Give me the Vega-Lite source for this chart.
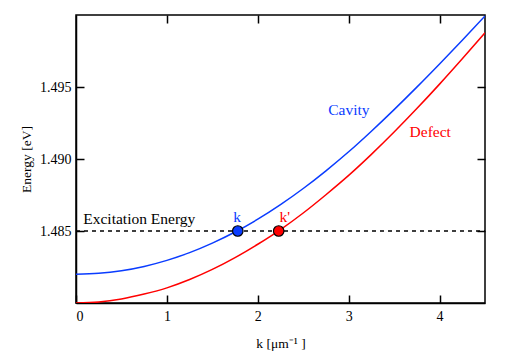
{
  "$schema": "https://vega.github.io/schema/vega-lite/v6.json",
  "width": 409,
  "height": 288,
  "autosize": {"type": "none"},
  "padding": {"left": 76, "top": 15, "right": 29, "bottom": 54},
  "background": "white",
  "config": {
    "font": "Liberation Serif",
    "view": {"stroke": "black", "strokeWidth": 1.5},
    "axis": {
      "labelFont": "Liberation Serif",
      "titleFont": "Liberation Serif",
      "labelFontSize": 14,
      "titleFontSize": 13.5,
      "titleFontWeight": "normal",
      "labelColor": "black",
      "titleColor": "black",
      "domainColor": "black",
      "domainWidth": 1.5,
      "tickColor": "black",
      "tickWidth": 1.5,
      "tickSize": -8,
      "grid": false
    }
  },
  "datasets": {
    "curves": [
      {"k": 0, "E": 1.48200, "s": "Cavity"},
      {"k": 0.25, "E": 1.48206, "s": "Cavity"},
      {"k": 0.5, "E": 1.48224, "s": "Cavity"},
      {"k": 0.75, "E": 1.48254, "s": "Cavity"},
      {"k": 1.0, "E": 1.48296, "s": "Cavity"},
      {"k": 1.25, "E": 1.48350, "s": "Cavity"},
      {"k": 1.5, "E": 1.48416, "s": "Cavity"},
      {"k": 1.75, "E": 1.48493, "s": "Cavity"},
      {"k": 2.0, "E": 1.48582, "s": "Cavity"},
      {"k": 2.25, "E": 1.48683, "s": "Cavity"},
      {"k": 2.5, "E": 1.48795, "s": "Cavity"},
      {"k": 2.75, "E": 1.48918, "s": "Cavity"},
      {"k": 3.0, "E": 1.49050, "s": "Cavity"},
      {"k": 3.25, "E": 1.49193, "s": "Cavity"},
      {"k": 3.5, "E": 1.49343, "s": "Cavity"},
      {"k": 3.75, "E": 1.49499, "s": "Cavity"},
      {"k": 4.0, "E": 1.49660, "s": "Cavity"},
      {"k": 4.25, "E": 1.49825, "s": "Cavity"},
      {"k": 4.5, "E": 1.49993, "s": "Cavity"},
      {"k": 0, "E": 1.48000, "s": "Defect"},
      {"k": 0.25, "E": 1.48007, "s": "Defect"},
      {"k": 0.5, "E": 1.48028, "s": "Defect"},
      {"k": 0.75, "E": 1.48062, "s": "Defect"},
      {"k": 1.0, "E": 1.48105, "s": "Defect"},
      {"k": 1.25, "E": 1.48163, "s": "Defect"},
      {"k": 1.5, "E": 1.48233, "s": "Defect"},
      {"k": 1.75, "E": 1.48315, "s": "Defect"},
      {"k": 2.0, "E": 1.48408, "s": "Defect"},
      {"k": 2.25, "E": 1.48510, "s": "Defect"},
      {"k": 2.5, "E": 1.48625, "s": "Defect"},
      {"k": 2.75, "E": 1.48752, "s": "Defect"},
      {"k": 3.0, "E": 1.48886, "s": "Defect"},
      {"k": 3.25, "E": 1.49032, "s": "Defect"},
      {"k": 3.5, "E": 1.49187, "s": "Defect"},
      {"k": 3.75, "E": 1.49350, "s": "Defect"},
      {"k": 4.0, "E": 1.49520, "s": "Defect"},
      {"k": 4.25, "E": 1.49696, "s": "Defect"},
      {"k": 4.5, "E": 1.49876, "s": "Defect"}
    ],
    "excitation": [
      {"k": 0, "E": 1.485},
      {"k": 4.5, "E": 1.485}
    ],
    "points": [
      {"k": 1.78, "E": 1.485, "s": "Cavity"},
      {"k": 2.23, "E": 1.485, "s": "Defect"}
    ],
    "labels": [
      {"k": 0.08, "E": 1.4858, "t": "Excitation Energy", "s": "Black"},
      {"k": 1.73, "E": 1.4860, "t": "k", "s": "Cavity"},
      {"k": 2.24, "E": 1.4860, "t": "k'", "s": "Defect"},
      {"k": 2.775, "E": 1.4934, "t": "Cavity", "s": "Cavity"},
      {"k": 3.67, "E": 1.4919, "t": "Defect", "s": "Defect"}
    ]
  },
  "resolve": {"axis": {"x": "independent", "y": "independent"}},
  "layer": [
    {
      "data": {"name": "curves"},
      "mark": {"type": "line", "strokeWidth": 1.5, "interpolate": "monotone", "clip": true},
      "encoding": {
        "x": {"field": "k", "type": "quantitative", "scale": {"domain": [0, 4.5], "nice": false, "zero": false},
          "axis": {"orient": "bottom", "values": [0, 1, 2, 3, 4], "title": "k [μm⁻¹ ]", "labelPadding": 14, "titlePadding": 13}},
        "y": {"field": "E", "type": "quantitative", "scale": {"domain": [1.48, 1.5], "nice": false, "zero": false},
          "axis": {"orient": "left", "values": [1.485, 1.49, 1.495], "format": ".3f", "title": "Energy [eV]", "labelPadding": 13, "titlePadding": 6}},
        "color": {"field": "s", "type": "nominal", "scale": {"domain": ["Cavity", "Defect", "Black"], "range": ["#0a3cff", "#ff0000", "#000000"]}, "legend": null}
      }
    },
    {
      "data": {"name": "excitation"},
      "mark": {"type": "line", "color": "black", "strokeWidth": 1.5, "strokeDash": [4, 4]},
      "encoding": {
        "x": {"field": "k", "type": "quantitative", "axis": null},
        "y": {"field": "E", "type": "quantitative", "axis": null}
      }
    },
    {
      "data": {"name": "points"},
      "mark": {"type": "point", "filled": true, "size": 110, "stroke": "black", "strokeWidth": 1.2, "opacity": 1},
      "encoding": {
        "x": {"field": "k", "type": "quantitative", "axis": null},
        "y": {"field": "E", "type": "quantitative", "axis": null},
        "fill": {"field": "s", "type": "nominal", "scale": {"domain": ["Cavity", "Defect"], "range": ["#0a3cff", "#ff0000"]}, "legend": null}
      }
    },
    {
      "data": {"name": "labels"},
      "mark": {"type": "text", "fontSize": 15.5, "font": "Liberation Serif", "align": "left", "baseline": "middle"},
      "encoding": {
        "x": {"field": "k", "type": "quantitative", "axis": null},
        "y": {"field": "E", "type": "quantitative", "axis": null},
        "text": {"field": "t"},
        "color": {"field": "s", "type": "nominal", "legend": null}
      }
    },
    {
      "data": {"name": "excitation"},
      "mark": {"type": "point", "opacity": 0},
      "encoding": {
        "x": {"field": "k", "type": "quantitative", "axis": {"orient": "top", "values": [1, 2, 3, 4], "labels": false, "title": null, "domain": false}},
        "y": {"field": "E", "type": "quantitative", "axis": {"orient": "right", "values": [1.485, 1.49, 1.495], "labels": false, "title": null, "domain": false}}
      }
    }
  ]
}
